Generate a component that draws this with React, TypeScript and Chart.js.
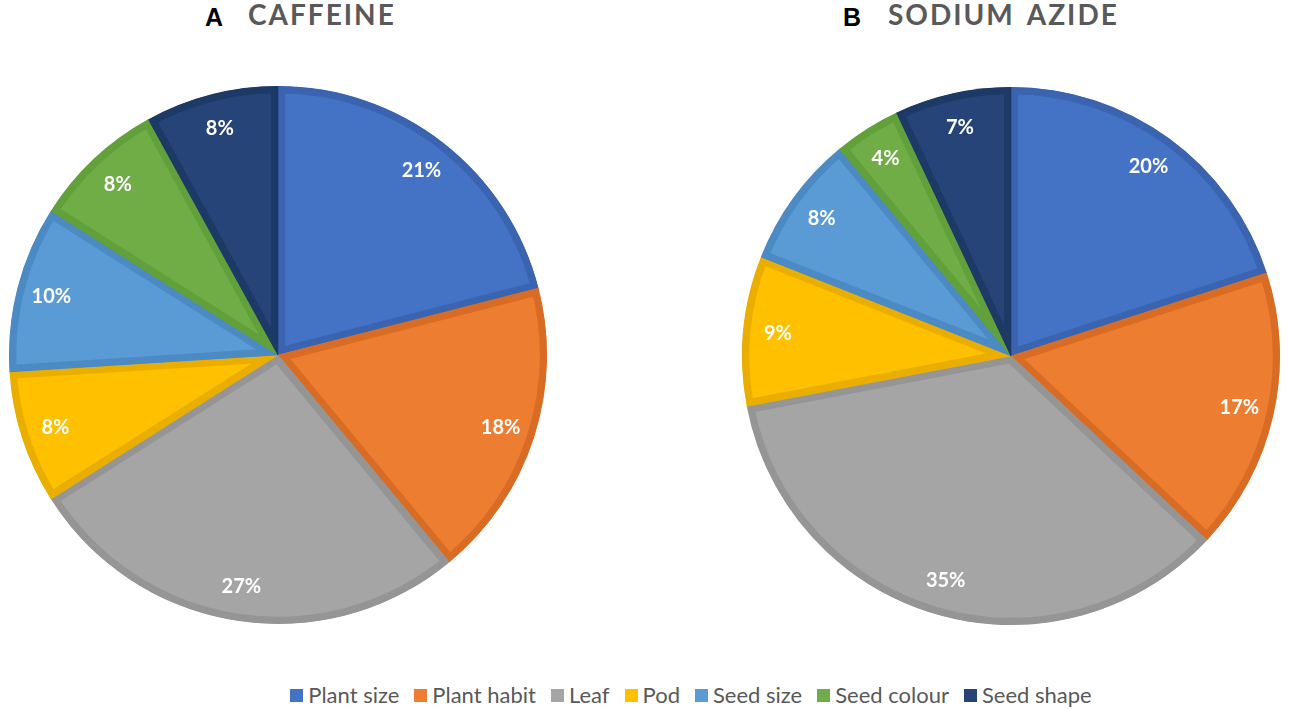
import { useEffect, useRef } from "react";
import { Chart, registerables } from "chart.js";

Chart.register(...registerables);

const traits = ["Plant size", "Plant habit", "Leaf", "Pod", "Seed size", "Seed colour", "Seed shape"];
const caffeineValues = [21, 18, 27, 8, 10, 8, 8];
const azideValues = [20, 17, 35, 9, 8, 4, 7];

const fillColors = ["#4472C4", "#ED7D31", "#A5A5A5", "#FFC000", "#5B9BD5", "#70AD47", "#264478"];
const edgeColors = ["#3A64B0", "#D96C24", "#959595", "#E9AE00", "#4C8AC4", "#61A03A", "#1D3966"];

const pctLabels = {
  id: "pctLabels",
  afterDatasetsDraw(chart) {
    const ctx = chart.ctx;
    const meta = chart.getDatasetMeta(0);
    const data = chart.data.datasets[0].data;
    meta.data.forEach((arc, i) => {
      const { x, y, startAngle, endAngle, outerRadius } = arc.getProps(
        ["x", "y", "startAngle", "endAngle", "outerRadius"],
        true
      );
      const mid = (startAngle + endAngle) / 2;
      const r = outerRadius * 0.87;
      ctx.save();
      ctx.font = "bold 20px Lato";
      ctx.fillStyle = "#ffffff";
      ctx.textAlign = "center";
      ctx.textBaseline = "middle";
      ctx.fillText(data[i] + "%", x + Math.cos(mid) * r, y + Math.sin(mid) * r);
      ctx.restore();
    });
  },
};

const PieChart = ({ values, left, top, size }) => {
  const canvasRef = useRef(null);
  const chartRef = useRef(null);

  useEffect(() => {
    if (chartRef.current) {
      chartRef.current.destroy();
    }
    if (canvasRef.current) {
      chartRef.current = new Chart(canvasRef.current, {
        type: "pie",
        data: {
          labels: traits,
          datasets: [
            {
              data: values,
              backgroundColor: fillColors,
              borderColor: edgeColors,
              borderWidth: 7,
              borderAlign: "inner",
              hoverOffset: 0,
              offset: 0,
            },
          ],
        },
        options: {
          animation: false,
          responsive: false,
          events: [],
          layout: { padding: 0 },
          plugins: {
            legend: { display: false },
            tooltip: { enabled: false },
          },
        },
        plugins: [pctLabels],
      });
    }
    return () => {
      if (chartRef.current) {
        chartRef.current.destroy();
        chartRef.current = null;
      }
    };
  }, [values]);

  return (
    <canvas
      ref={canvasRef}
      width={size}
      height={size}
      style={{ position: "absolute", left, top, width: size, height: size }}
    />
  );
};

const Title = ({ letter, text, letterLeft, textLeft }) => (
  <>
    <span
      style={{
        position: "absolute",
        left: letterLeft,
        top: 5,
        fontFamily: "'Liberation Sans', Arial, sans-serif",
        fontWeight: "bold",
        fontSize: 25,
        lineHeight: "25px",
        color: "#000",
      }}
    >
      {letter}
    </span>
    <span
      style={{
        position: "absolute",
        left: textLeft,
        top: 0,
        fontFamily: "Lato, sans-serif",
        fontWeight: "bold",
        fontSize: 28,
        lineHeight: "28px",
        letterSpacing: 2,
        wordSpacing: 4,
        color: "#595959",
        whiteSpace: "nowrap",
      }}
    >
      {text}
    </span>
  </>
);

export default function App() {
  useEffect(() => {
    document.body.style.margin = "0";
  }, []);

  return (
    <div style={{ position: "relative", width: 1291, height: 710, background: "#fff", overflow: "hidden" }}>
      <Title letter="A" text="CAFFEINE" letterLeft={205} textLeft={248} />
      <Title letter="B" text="SODIUM AZIDE" letterLeft={843} textLeft={888} />
      <PieChart values={caffeineValues} left={9} top={86} size={538} />
      <PieChart values={azideValues} left={742} top={87} size={538} />
      <div
        style={{
          position: "absolute",
          left: 0,
          width: 1382,
          top: 683,
          display: "flex",
          justifyContent: "center",
          fontFamily: "Lato, sans-serif",
          fontSize: 22,
          lineHeight: "24px",
          color: "#595959",
          whiteSpace: "nowrap",
        }}
      >
        {traits.map((t, i) => (
          <span key={t} style={{ display: "flex", alignItems: "center", marginRight: i < traits.length - 1 ? 15 : 0 }}>
            <span style={{ display: "inline-block", width: 13, height: 13, background: fillColors[i], marginRight: 5 }} />
            {t}
          </span>
        ))}
      </div>
    </div>
  );
}
